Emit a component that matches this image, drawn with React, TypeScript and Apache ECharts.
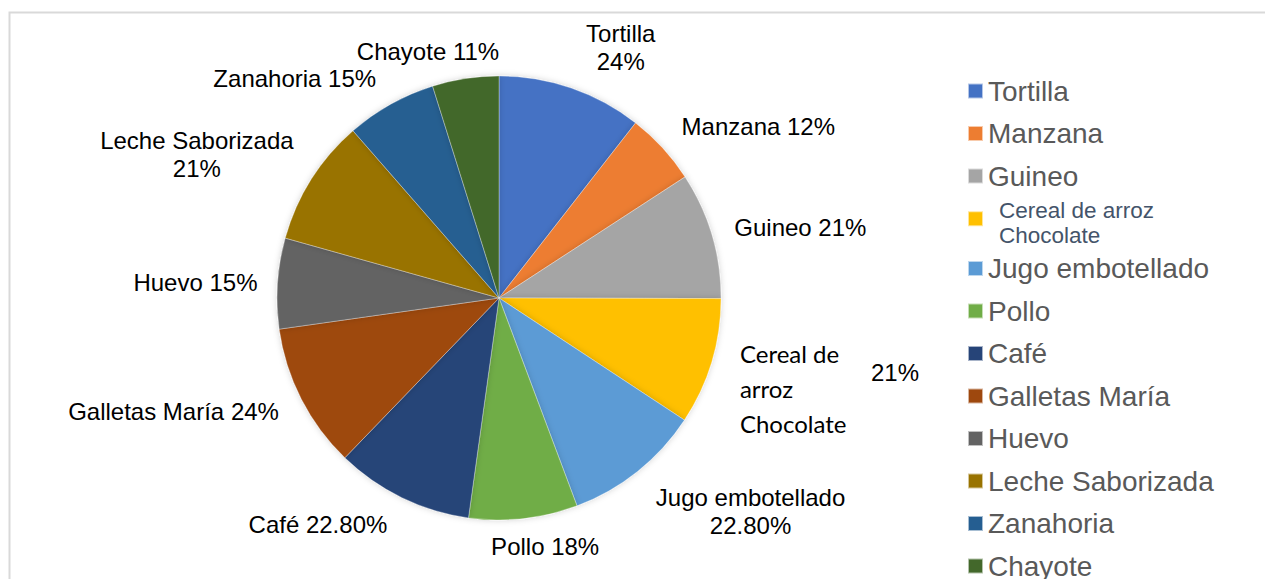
import React, { useEffect, useRef } from "react";
import * as echarts from "echarts";

const categories = [
  "Tortilla",
  "Manzana",
  "Guineo",
  "Cereal de arroz Chocolate",
  "Jugo embotellado",
  "Pollo",
  "Café",
  "Galletas María",
  "Huevo",
  "Leche Saborizada",
  "Zanahoria",
  "Chayote",
];
const values = [24, 12, 21, 21, 22.8, 18, 22.8, 24, 15, 21, 15, 11];
const colors = [
  "#4472C4",
  "#ED7D31",
  "#A5A5A5",
  "#FFC000",
  "#5B9BD5",
  "#70AD47",
  "#264478",
  "#9E480E",
  "#636363",
  "#997300",
  "#255E91",
  "#43682B",
];
// names whose label breaks onto a second line
const twoLineLabels = ["Tortilla", "Jugo embotellado", "Leche Saborizada"];
// small label nudges (style only) [dx, dy]
const labelNudge: [number, number][] = [
  [5, -26],
  [3, -11],
  [3, -3],
  [9, 22],
  [4, 28],
  [-39, 13],
  [-3, 13],
  [-4, 6],
  [0, 0],
  [0, -17],
  [-2, -13],
  [41, -12],
];

const fmtVal = (v: number) => (Number.isInteger(v) ? `${v}%` : `${v.toFixed(2)}%`);

export default function App() {
  const ref = useRef<HTMLDivElement>(null);
  useEffect(() => {
    if (!ref.current) return;
    const chart = echarts.init(ref.current, null, { renderer: "svg" });
    const cerealIdx = categories.indexOf("Cereal de arroz Chocolate");
    chart.setOption({
      animation: false,
      backgroundColor: "#fff",
      graphic: [
        {
          type: "rect",
          left: 7,
          top: 10,
          shape: { x: 0, y: 0, width: 1400, height: 700 },
          style: { fill: "none", stroke: "#d9d9d9", lineWidth: 2 },
          silent: true,
        },
        {
          type: "text",
          left: 871,
          top: 360,
          style: {
            text: fmtVal(values[cerealIdx]),
            fontFamily: "Liberation Sans, Arial, sans-serif",
            fontSize: 24,
            fill: "#000",
          },
        },
      ],
      legend: {
        orient: "vertical",
        left: 967,
        top: 69.75,
        height: 700,
        padding: 0,
        itemGap: 0,
        itemWidth: 15,
        itemHeight: 15,
        icon: "rect",
        data: categories,
        formatter: (name: string) =>
          name === "Cereal de arroz Chocolate"
            ? "{c1|Cereal de arroz}\n{c2|Chocolate}"
            : name,
        textStyle: {
          fontFamily: "Liberation Sans, Arial, sans-serif",
          fontSize: 28,
          lineHeight: 42.5,
          color: "#595959",
          rich: {
            c1: {
              fontFamily: "Liberation Sans, Arial, sans-serif",
              fontSize: 22.5,
              lineHeight: 27,
              color: "#44546A",
              padding: [0, 0, 0, 11],
            },
            c2: {
              fontFamily: "Liberation Sans, Arial, sans-serif",
              fontSize: 22.5,
              lineHeight: 16,
              verticalAlign: "top",
              color: "#44546A",
              padding: [0, 0, 0, 11],
            },
          },
        },
      },
      series: [
        {
          type: "pie",
          center: [499, 298],
          radius: 222,
          startAngle: 90,
          clockwise: true,
          avoidLabelOverlap: false,
          itemStyle: {
            borderColor: "rgba(255,255,255,0.6)",
            borderWidth: 0.5,
            shadowBlur: 6,
            shadowColor: "rgba(0,0,0,0.18)",
          },
          emphasis: { disabled: true },
          labelLine: { show: false, length: 15, length2: 0 },
          label: {
            show: true,
            position: "outside",
            alignTo: "none",
            fontFamily: "Liberation Sans, Arial, sans-serif",
            fontSize: 24,
            color: "#000",
            formatter: (p: any) => {
              if (p.name === "Cereal de arroz Chocolate") {
                return "{n|Cereal de}\n{n|arroz}\n{n|Chocolate}";
              }
              if (twoLineLabels.includes(p.name)) {
                return `{m|${p.name}}\n{m|${fmtVal(p.value)}}`;
              }
              return `${p.name} ${fmtVal(p.value)}`;
            },
            rich: {
              n: {
                fontFamily: "Lato, Open Sans, sans-serif",
                fontSize: 24,
                lineHeight: 35,
                color: "#000",
              },
              m: {
                fontFamily: "Liberation Sans, Arial, sans-serif",
                fontSize: 24,
                lineHeight: 28,
                align: "center",
                color: "#000",
              },
            },
          },
          labelLayout: (params: any) => {
            const n = labelNudge[params.dataIndex] || [0, 0];
            return { dx: n[0], dy: n[1] };
          },
          data: categories.map((c, i) => ({
            name: c,
            value: values[i],
            itemStyle: { color: colors[i] },
          })),
        },
      ],
    });
    return () => chart.dispose();
  }, []);
  return (
    <div
      ref={ref}
      style={{ position: "fixed", left: 0, top: 0, width: 1265, height: 579 }}
    />
  );
}
